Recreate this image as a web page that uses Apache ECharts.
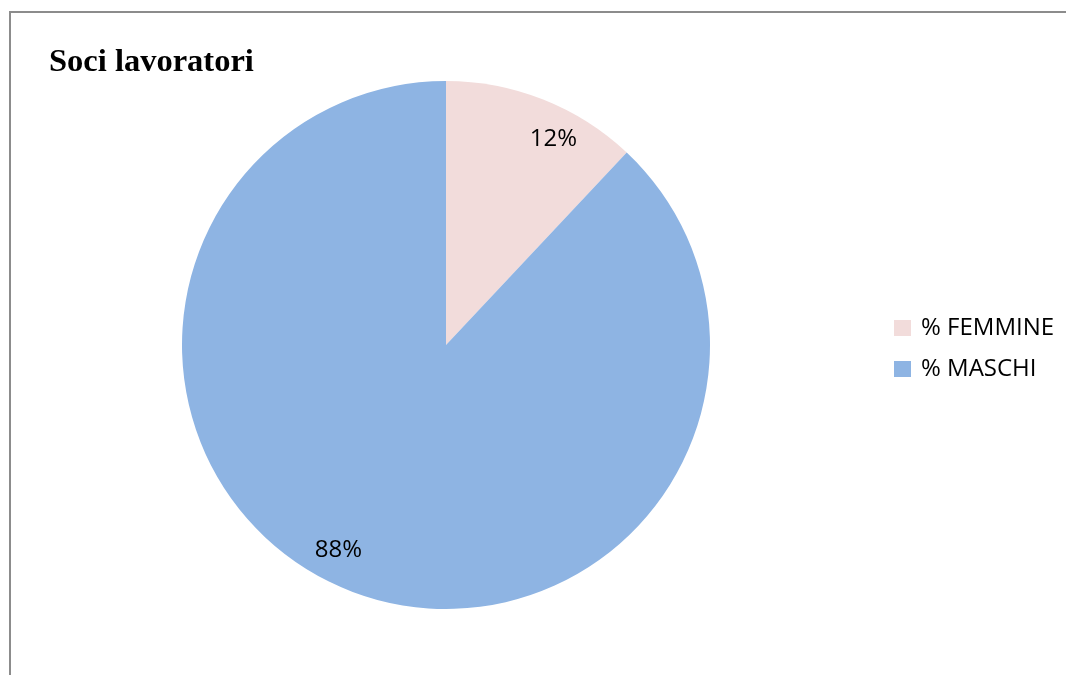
<!DOCTYPE html>
<html>
<head>
<meta charset="utf-8">
<style>
  html, body { margin: 0; padding: 0; background: #ffffff; }
  #chart { width: 1066px; height: 675px; }
</style>
<script src="https://cdn.jsdelivr.net/npm/echarts@6/dist/echarts.min.js"></script>
</head>
<body>
<div id="chart"></div>
<script>
// Worker-members by gender (percent)
const categories = ['% FEMMINE', '% MASCHI'];
const values = [12, 88];
const colors = ['#F2DCDB', '#8EB4E3'];

const pieData = categories.map((name, i) => ({
  name: name,
  value: values[i],
  itemStyle: { color: colors[i] }
}));

const chart = echarts.init(document.getElementById('chart'), null, { renderer: 'canvas' });

chart.setOption({
  animation: false,
  backgroundColor: '#ffffff',
  title: {
    text: 'Soci lavoratori',
    left: 44,
    top: 41,
    textStyle: {
      fontFamily: 'Liberation Serif',
      fontWeight: 'bold',
      fontSize: 32.5,
      color: '#000000'
    }
  },
  legend: {
    orient: 'vertical',
    left: 889,
    top: 311,
    itemWidth: 17,
    itemHeight: 16,
    itemGap: 17,
    icon: 'rect',
    data: categories,
    textStyle: {
      fontFamily: 'Open Sans',
      fontSize: 24,
      color: '#000000',
      padding: [0, 0, 0, 5]
    }
  },
  graphic: [{
    type: 'rect',
    silent: true,
    shape: { x: 10, y: 12, width: 1200, height: 800 },
    style: { fill: 'none', stroke: '#8c8c8c', lineWidth: 2 }
  }],
  series: [
    {
      type: 'pie',
      center: [446, 345],
      radius: [0, 264],
      startAngle: 90,
      clockwise: true,
      silent: true,
      data: pieData,
      label: { show: false },
      labelLine: { show: false },
      itemStyle: { borderWidth: 0 }
    },
    {
      // transparent ring that only carries the percentage labels
      type: 'pie',
      center: [446, 345],
      radius: [194, 264],
      startAngle: 84,
      clockwise: true,
      silent: true,
      data: categories.map((name, i) => ({ name: name, value: values[i] })),
      itemStyle: { color: 'rgba(0,0,0,0)', borderWidth: 0 },
      label: {
        show: true,
        position: 'inside',
        formatter: p => p.value + '%',
        fontFamily: 'Open Sans',
        fontSize: 24,
        color: '#000000'
      },
      labelLine: { show: false }
    }
  ]
});
</script>
</body>
</html>
